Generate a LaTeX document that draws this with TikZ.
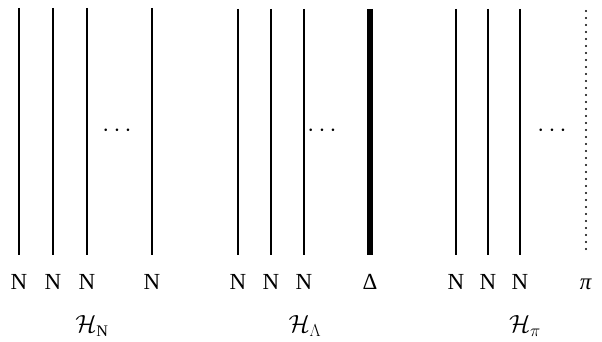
\documentclass[tikz,border=0pt]{standalone}
\usepackage{fontspec}
\setmainfont{Liberation Serif}
\begin{document}
\begin{tikzpicture}[x=1pt,y=-1pt,
  strand/.style={line width=1.8pt},
  heavystrand/.style={line width=6.5pt},
  dotstrand/.style={line width=2.2pt, line cap=round, dash pattern=on 0pt off 7pt},
  lbl/.style={font=\fontsize{23}{25}\selectfont, anchor=base, inner sep=0pt},
  hlbl/.style={font=\fontsize{23}{25}\selectfont, inner sep=0pt},
  ell/.style={font=\fontsize{29}{31}\selectfont, inner sep=0pt}]
\useasboundingbox (0,0) rectangle (602,342);
% group 1
\foreach \i/\x in {a/19,b/53,c/87,d/152}{
  \coordinate (t1\i) at (\x,8); \coordinate (b1\i) at (\x,255);
  \draw[strand] (t1\i) -- (b1\i);
  \node[lbl] (n1\i) at (\x,289) {N};
}
\node[ell] (e1) at (117,131) {$\cdots$};
\node[hlbl] (h1) at (92,326) {$\mathcal{H}_{\mathrm{N}}$};
% group 2
\foreach \i/\x in {a/238,b/271,c/304}{
  \coordinate (t2\i) at (\x,9); \coordinate (b2\i) at (\x,255);
  \draw[strand] (t2\i) -- (b2\i);
  \node[lbl] (n2\i) at (\x,289) {N};
}
\coordinate (t2d) at (370,9); \coordinate (b2d) at (370,255);
\draw[heavystrand] (t2d) -- (b2d);
\node[lbl] (n2d) at (370,289) {Δ};
\node[ell] (e2) at (322,131) {$\cdots$};
\node[hlbl] (h2) at (305,326) {$\mathcal{H}_{\Lambda}$};
% group 3
\foreach \i/\x in {a/456,b/488,c/520}{
  \coordinate (t3\i) at (\x,9); \coordinate (b3\i) at (\x,255);
  \draw[strand] (t3\i) -- (b3\i);
  \node[lbl] (n3\i) at (\x,289) {N};
}
\coordinate (t3d) at (586,11); \coordinate (b3d) at (586,256);
\draw[dotstrand] (t3d) -- (b3d);
\node[lbl] (n3d) at (586,289) {\textit{π}};
\node[ell] (e3) at (552,131) {$\cdots$};
\node[hlbl] (h3) at (525,326) {$\mathcal{H}_{\pi}$};
\end{tikzpicture}
\end{document}
